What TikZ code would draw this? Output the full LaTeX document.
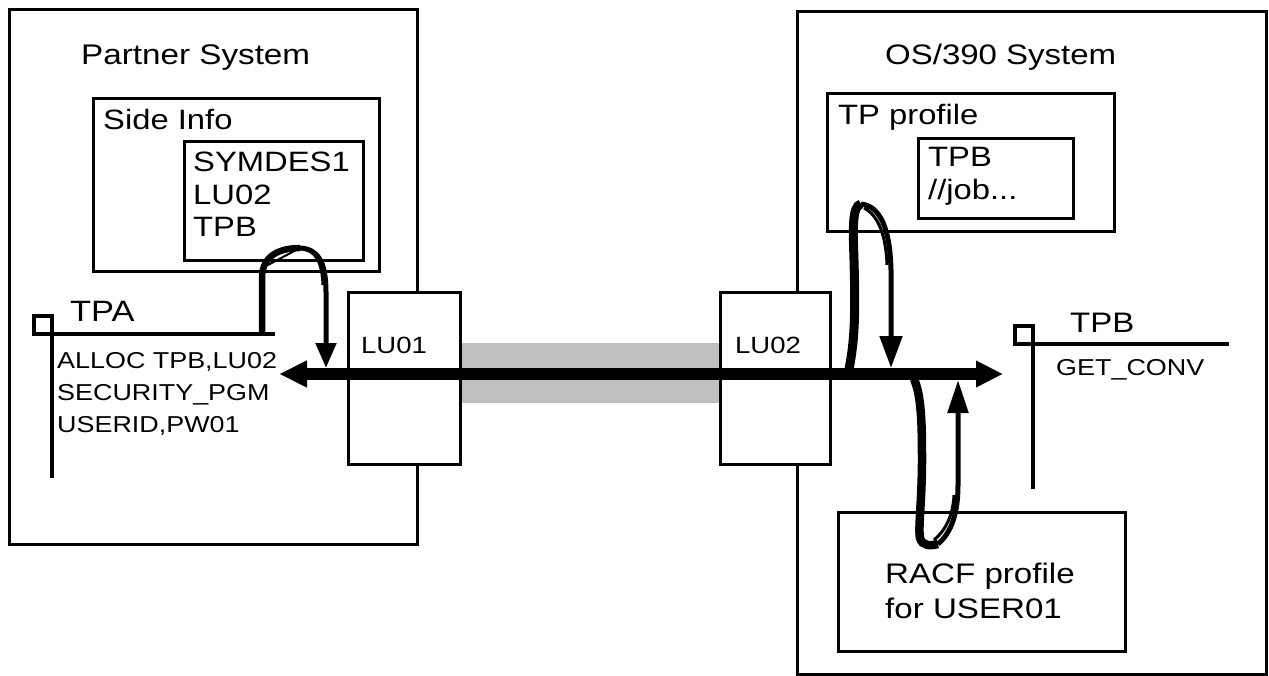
\documentclass[tikz,border=0pt]{standalone}
\usepackage{fontspec}
\setmainfont{Liberation Sans}[FakeStretch=1.17]
\usetikzlibrary{arrows.meta}
\begin{document}
\begin{tikzpicture}[x=1pt,y=-1pt,
  box/.style={draw, line width=3.4pt, inner sep=0pt, anchor=north west},
  lbl/.style={anchor=base west, inner sep=0pt, font=\fontsize{#1}{#1}\selectfont},
  pline/.style={line width=3.4pt},
  bigarrow/.style={line width=12pt, {Triangle[length=28pt,width=25pt]}-{Triangle[length=27pt,width=25pt]}},
  downleg/.style={line width=5pt}
]
\useasboundingbox (0,0) rectangle (1269,676);
% outer systems
\node[box, minimum width=408pt, minimum height=535pt] (partner) at (8,8) {};
\node[box, minimum width=469pt, minimum height=663pt] (os) at (796,10) {};
% inner boxes
\node[box, minimum width=286pt, minimum height=173pt] (side) at (92,97) {};
\node[box, minimum width=179pt, minimum height=119pt] (sym) at (183,140) {};
\node[box, minimum width=287pt, minimum height=138pt] (tpprof) at (826,92) {};
\node[box, minimum width=155pt, minimum height=80pt] (tpbbox) at (917,137) {};
\node[box, minimum width=287pt, minimum height=139pt] (racf) at (837,511) {};
% grey band and LU boxes
\node[fill=black!25, inner sep=0pt, anchor=north west, minimum width=260pt, minimum height=60pt] (band) at (459,343) {};
\node[box, fill=white, minimum width=112pt, minimum height=172pt] (lu01) at (347,291) {};
\node[box, fill=white, minimum width=110pt, minimum height=172pt] (lu02) at (719,291) {};
% texts
\node[lbl=28.4] (t1) at (81,65) {Partner System};
\node[lbl=28.2] (t2) at (885,65) {OS/390 System};
\node[lbl=28] (t3) at (103,130) {Side Info};
\node[lbl=28] (t4) at (193,172) {SYMDES1};
\node[lbl=28] (t5) at (193,205) {LU02};
\node[lbl=28] (t6) at (193,237) {TPB};
\node[lbl=28] (t7) at (838,125) {TP profile};
\node[lbl=28] (t8) at (928,167) {TPB};
\node[lbl=28] (t9) at (928,200) {//job...};
\node[lbl=23.5] (t10) at (361,353) {LU01};
\node[lbl=23.5] (t11) at (735,353) {LU02};
\node[lbl=29.4] (t12) at (70,321) {TPA};
\node[lbl=23] (t13) at (57,368) {ALLOC TPB,LU02};
\node[lbl=23] (t14) at (57,400) {SECURITY\_PGM};
\node[lbl=23] (t15) at (57,432) {USERID,PW01};
\node[lbl=28.2] (t16) at (1070,332) {TPB};
\node[lbl=23] (t17) at (1056,375) {GET\_CONV};
\node[lbl=28.3] (t18) at (885,583) {RACF profile};
\node[lbl=28.3] (t19) at (885,618) {for USER01};
% program TPA
\coordinate (tpaC) at (52,334);
\coordinate (tpaE) at (275,334);
\coordinate (tpaB) at (52,478);
\draw[pline] (34,316) rectangle (tpaC);
\draw[pline] (tpaC) -- (tpaE);
\draw[pline] (tpaC) -- (tpaB);
% program TPB
\coordinate (tpbC) at (1033,344);
\coordinate (tpbE) at (1229,344);
\coordinate (tpbB) at (1033,489);
\draw[pline] (1015,326) rectangle (tpbC);
\draw[pline] (tpbC) -- (tpbE);
\draw[pline] (tpbC) -- (tpbB);
% main conversation arrow
\coordinate (aL) at (279,374);
\coordinate (aR) at (1003,374);
\draw[bigarrow] (aL) -- (aR);
% loop 1: TPA -> side info -> arrow
\coordinate (l1s) at (262,335);
\coordinate (l1t) at (300,248);
\coordinate (l1e) at (326,368);
\draw[line width=6.5pt] (l1s) -- (262,278) .. controls (262,254) and (282,248) .. (l1t);
\draw[line width=2pt] (266,266) -- (l1t);
\draw[downleg, -{Triangle[length=25pt,width=20pt]}] (l1t) .. controls (318,249) and (326,262) .. (326,292) -- (l1e);
\draw[line width=3pt] (l1t) .. controls (316,250) and (322,262) .. (323,285);
% loop 2: arrow -> TP profile -> arrow
\coordinate (l2s) at (849,369);
\coordinate (l2t) at (861,204);
\coordinate (l2e) at (891,368);
\draw[line width=9pt] (l2s) .. controls (856,335) and (855,300) .. (854,260) .. controls (853,228) and (852,206) .. (l2t);
\draw[downleg, -{Triangle[length=32pt,width=22pt]}] (l2t) .. controls (880,206) and (890,228) .. (891,270) -- (l2e);
\draw[line width=3pt] (864,208) .. controls (878,215) and (886,235) .. (887,265);
% loop 3: arrow -> RACF -> arrow
\coordinate (l3s) at (914,379);
\coordinate (l3b) at (938,544);
\coordinate (l3e) at (958,380);
\draw[line width=8.5pt] (l3s) .. controls (921,395) and (922,420) .. (922,460) .. controls (922,500) and (918,528) .. (920,538) .. controls (922,546) and (930,546) .. (l3b);
\draw[downleg, -{Triangle[length=33pt,width=20pt]}] (l3b) .. controls (952,532) and (958,512) .. (958,485) -- (l3e);
\draw[line width=3pt] (934,540) .. controls (946,530) and (953,515) .. (954,495);
\end{tikzpicture}
\end{document}
